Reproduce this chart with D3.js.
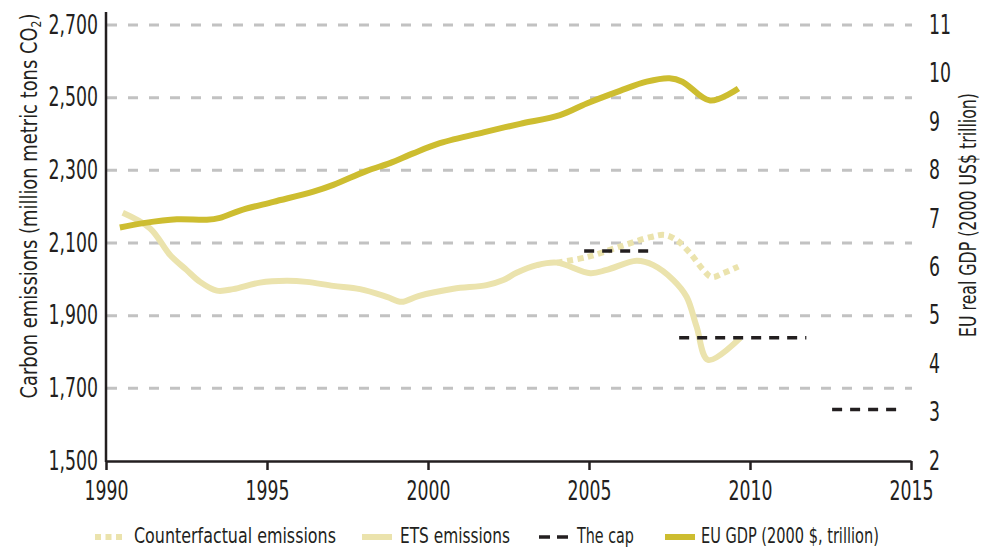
<!DOCTYPE html>
<html lang="en">
<head>
<meta charset="UTF-8">
<title>EU ETS emissions and GDP</title>
<script src="https://d3js.org/d3.v7.min.js"></script>
<style>
  body { margin: 0; background: #fff; }
  svg text { font-family: "Liberation Sans Narrow", "Arial Narrow", "DejaVu Sans Condensed", sans-serif; fill: #231f20; }
</style>
</head>
<body>
<svg width="992" height="548"></svg>
<script>
// EU GDP (right axis, 2000 $ trillion)
const gdpYears = [1990.43, 1991.16, 1992.2, 1993.13, 1993.54, 1994.16, 1995.2, 1996.44, 1997.06, 1998.1, 1998.82, 1999.54, 2000.37, 2001.82, 2002.86, 2004.1, 2004.93, 2005.96, 2006.79, 2007.5, 2007.9, 2008.76, 2009.64];
const gdpValues = [6.82, 6.91, 6.99, 6.98, 7.02, 7.17, 7.35, 7.56, 7.70, 7.99, 8.15, 8.35, 8.56, 8.80, 8.96, 9.14, 9.38, 9.64, 9.83, 9.90, 9.83, 9.44, 9.69];

// ETS emissions (left axis, million metric tons CO2)
const etsYears = [1990.52, 1991.37, 1991.99, 1992.5, 1992.92, 1993.44, 1993.95, 1994.78, 1995.61, 1996.23, 1997.06, 1997.89, 1998.72, 1999.18, 1999.7, 2000.79, 2001.82, 2002.34, 2002.75, 2003.38, 2004.0, 2005.04, 2005.55, 2006.48, 2007.0, 2007.62, 2008.03, 2008.34, 2008.7, 2009.69];
const etsValues = [2183, 2140, 2067, 2026, 1993, 1969, 1973, 1991, 1996, 1993, 1982, 1973, 1952, 1938, 1954, 1974, 1984, 1998, 2018, 2039, 2046, 2017, 2026, 2051, 2039, 1998, 1952, 1870, 1778, 1838];

// Counterfactual emissions
const cfYears = [2004.0, 2004.93, 2005.96, 2006.9, 2007.36, 2007.72, 2008.14, 2008.55, 2008.81, 2009.17, 2009.64];
const cfValues = [2046, 2061, 2090, 2116, 2122, 2108, 2072, 2026, 2006, 2017, 2035];

// The cap, one flat segment per phase
const capStart = [2004.85, 2007.8, 2012.55];
const capEnd = [2006.9, 2011.75, 2014.55];
const capValues = [2078, 1839, 1642];

const xTicks = [1990, 1995, 2000, 2005, 2010, 2015];
const leftTicks = [1500, 1700, 1900, 2100, 2300, 2500, 2700];
const rightTicks = [2, 3, 4, 5, 6, 7, 8, 9, 10, 11];

const legendLabels = ["Counterfactual emissions", "ETS emissions", "The cap", "EU GDP (2000 $, trillion)"];

const gold = "#cdbd30", pale = "#ebe3ad", ink = "#231f20", grid = "#c2c2c2";

const svg = d3.select("svg");

const x = d3.scaleLinear().domain([1990, 2015]).range([106, 911]);
const yL = d3.scaleLinear().domain([1500, 2700]).range([461, 25]);
const yR = d3.scaleLinear().domain([2, 11]).range([461, 25]);

const tickRatio = 0.74;

// the original face is very condensed, so squeeze text horizontally with a transform
function squeezeTo(sel, width) {
    sel.each(function () {
        const w = this.getComputedTextLength();
        const t = d3.select(this).attr("transform") || "";
        d3.select(this).attr("transform", `${t} scale(${width / w},1)`);
    });
}
function squeezeTicks(sel, ratio) {
    sel.each(function () {
        const el = d3.select(this);
        el.attr("x", (+el.attr("x") || 0) / ratio)
          .attr("transform", `scale(${ratio},1)`);
    });
}

// gridlines
svg.append("g")
    .selectAll("line")
    .data(leftTicks.slice(1))
    .join("line")
    .attr("x1", x(1990) + 1)
    .attr("x2", x(2015) + 1)
    .attr("y1", d => yL(d))
    .attr("y2", d => yL(d))
    .attr("stroke", grid)
    .attr("stroke-width", 3)
    .attr("stroke-dasharray", "10,11");

// left axis
const gLeft = svg.append("g")
    .attr("transform", `translate(${x(1990)},0)`)
    .call(d3.axisLeft(yL).tickValues(leftTicks).tickFormat(d3.format(",")).tickSize(0).tickPadding(8));
gLeft.select(".domain").remove();
gLeft.selectAll("text").attr("font-size", 26).attr("font-family", null).call(squeezeTicks, tickRatio);
svg.append("line")
    .attr("x1", x(1990)).attr("x2", x(1990))
    .attr("y1", yL(2700) - 13).attr("y2", yL(1500) + 1)
    .attr("stroke", ink).attr("stroke-width", 2.5);

// bottom axis
const gBottom = svg.append("g")
    .attr("transform", `translate(0,${yL(1500)})`)
    .call(d3.axisBottom(x).tickValues(xTicks).tickFormat(d3.format("d")).tickSize(9).tickSizeOuter(0).tickPadding(12));
gBottom.select(".domain").attr("stroke", ink).attr("stroke-width", 2.5);
gBottom.selectAll(".tick line").attr("stroke", ink).attr("stroke-width", 2.5);
gBottom.selectAll("text").attr("font-size", 26).attr("font-family", null).call(squeezeTicks, tickRatio);

// right axis (labels only)
const gRight = svg.append("g")
    .attr("transform", `translate(${x(2015)},0)`)
    .call(d3.axisRight(yR).tickValues(rightTicks).tickSize(0).tickPadding(18));
gRight.select(".domain").remove();
gRight.selectAll("text").attr("font-size", 26).attr("font-family", null).call(squeezeTicks, tickRatio);

// axis titles
const leftTitle = svg.append("text")
    .attr("transform", "translate(37,206) rotate(-90)")
    .attr("text-anchor", "middle")
    .attr("font-size", 23);
leftTitle.append("tspan").text("Carbon emissions (million metric tons CO");
leftTitle.append("tspan").attr("font-size", 14).attr("dy", 4).text("2");
leftTitle.append("tspan").attr("dy", -4).text(")");
leftTitle.call(squeezeTo, 385);

svg.append("text")
    .attr("transform", "translate(976,215) rotate(-90)")
    .attr("text-anchor", "middle")
    .attr("font-size", 23)
    .text("EU real GDP (2000  US$ trillion)")
    .call(squeezeTo, 244);

// lines
const line = d3.line().curve(d3.curveCatmullRom.alpha(0.5));

svg.append("path")
    .attr("d", line(cfYears.map((d, i) => [x(d), yL(cfValues[i])])))
    .attr("fill", "none")
    .attr("stroke", pale)
    .attr("stroke-width", 6)
    .attr("stroke-dasharray", "6,4.5");

svg.append("path")
    .attr("d", line(etsYears.map((d, i) => [x(d), yL(etsValues[i])])))
    .attr("fill", "none")
    .attr("stroke", pale)
    .attr("stroke-width", 6)
    .attr("stroke-linejoin", "round");

svg.append("g")
    .selectAll("line")
    .data(capValues)
    .join("line")
    .attr("x1", (d, i) => x(capStart[i]))
    .attr("x2", (d, i) => x(capEnd[i]))
    .attr("y1", d => yL(d))
    .attr("y2", d => yL(d))
    .attr("stroke", ink)
    .attr("stroke-width", 3.5)
    .attr("stroke-dasharray", "10,8");

svg.append("path")
    .attr("d", line(gdpYears.map((d, i) => [x(d), yR(gdpValues[i])])))
    .attr("fill", "none")
    .attr("stroke", gold)
    .attr("stroke-width", 6)
    .attr("stroke-linejoin", "round");

// legend
const legendX = [95, 362, 539, 665];
const legendTextX = [134, 400, 577, 701];
const legendTextW = [202, 110, 57, 178];
const legendStyles = [
    { stroke: pale, width: 6, dash: "6,4.5" },
    { stroke: pale, width: 6, dash: null },
    { stroke: ink, width: 3.5, dash: "11,7" },
    { stroke: gold, width: 6, dash: null }
];
const legend = svg.append("g").attr("transform", "translate(0,537)");
legend.selectAll("line")
    .data(legendLabels)
    .join("line")
    .attr("x1", (d, i) => legendX[i])
    .attr("x2", (d, i) => legendX[i] + 30)
    .attr("y1", 0).attr("y2", 0)
    .attr("stroke", (d, i) => legendStyles[i].stroke)
    .attr("stroke-width", (d, i) => legendStyles[i].width)
    .attr("stroke-dasharray", (d, i) => legendStyles[i].dash);
legend.selectAll("text")
    .data(legendLabels)
    .join("text")
    .attr("transform", (d, i) => `translate(${legendTextX[i]},0)`)
    .attr("y", 6)
    .attr("font-size", 21)
    .text(d => d)
    .each(function (d, i) { d3.select(this).call(squeezeTo, legendTextW[i]); });
</script>
</body>
</html>
